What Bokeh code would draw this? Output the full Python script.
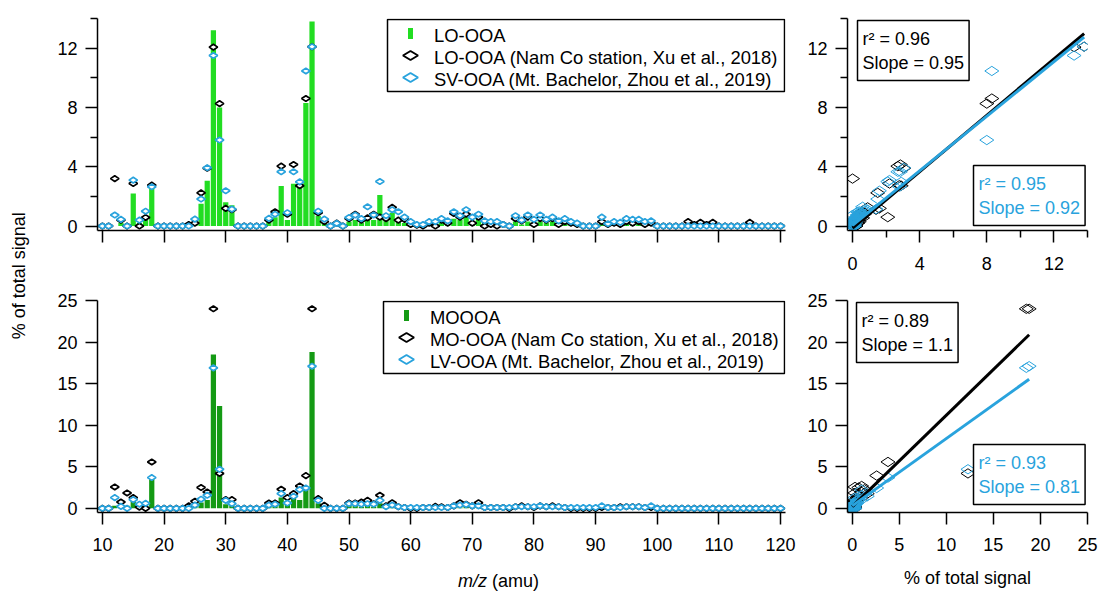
import math
from bokeh.plotting import figure
from bokeh.models import (Range1d, FixedTicker, Legend, LegendItem, Label,
                          BoxAnnotation, PolyAnnotation)
from bokeh.layouts import row, column
from bokeh.embed import file_html
from bokeh.resources import INLINE

# ---------------- data ----------------
mz = list(range(10, 121))

# this study, LO-OOA (% of total signal), m/z 10..120
lo_ooa = [
    0, 0, 0, 0.2, 0.1, 2.2, 0.2, 0.4, 2.8, 0,
    0, 0, 0, 0, 0.1, 0.3, 1.5, 3.05, 13.2, 8.0,
    1.6, 1.4, 0, 0, 0, 0, 0, 0.3, 0.6, 2.7,
    0.4, 2.85, 2.9, 8.3, 13.8, 0.7, 0.2, 0, 0.1, 0.1,
    0.3, 0.4, 0.2, 0.6, 0.4, 2.1, 0.4, 0.9, 0.3, 0.2,
    0.2, 0.1, 0.1, 0.1, 0.1, 0.3, 0.1, 0.5, 0.4, 0.7,
    0.3, 0.5, 0.2, 0.2, 0.1, 0.1, 0, 0.3, 0.1, 0.3,
    0.1, 0.3, 0.2, 0.3, 0.1, 0.2, 0.1, 0.1, 0, 0,
    0, 0.4, 0.1, 0.1, 0.1, 0.2, 0.1, 0.2, 0.1, 0.1,
    0, 0, 0, 0, 0, 0.05, 0, 0.05, 0, 0.05,
    0, 0, 0, 0, 0, 0.05, 0, 0, 0, 0,
    0,
]
# LO-OOA, Nam Co station (Xu et al., 2018)
lo_ooa_namco = [
    0, 0, 3.2, 0.4, 0, 2.87, 0, 0.58, 2.76, 0,
    0, 0, 0, 0, 0.1, 0.2, 2.24, 3.9, 12.07, 8.26,
    1.19, 1.1, 0, 0, 0, 0, 0, 0.4, 0.96, 4.04,
    0.8, 4.15, 2.72, 8.6, 12.1, 0.9, 0.3, 0, 0.2, 0,
    0.5, 0.8, 0.4, 0.55, 0.8, 0.6, 0.5, 1.26, 0.4, 0.45,
    0.1, 0.05, 0, 0.2, 0, 0.4, 0.2, 0.85, 0.6, 0.8,
    0.2, 0.6, 0, 0.1, 0, 0.1, 0, 0.5, 0.35, 0.6,
    0.1, 0.5, 0.4, 0.5, 0.1, 0.3, 0.2, 0.1, 0, 0,
    0, 0.3, 0.1, 0.2, 0.1, 0.3, 0.2, 0.3, 0.1, 0.2,
    0, 0, 0, 0, 0, 0.3, 0.1, 0.25, 0.1, 0.25,
    0, 0, 0, 0, 0, 0.25, 0, 0, 0, 0,
    0,
]
# SV-OOA, Mt. Bachelor (Zhou et al., 2019)
sv_ooa_bachelor = [
    0, 0, 0.74, 0.45, 0, 3.1, 0.4, 1.0, 2.65, 0,
    0, 0, 0, 0, 0, 0.47, 1.82, 3.93, 11.5, 5.8,
    2.38, 1.14, 0, 0, 0, 0, 0, 0.52, 0.8, 3.66,
    0.9, 3.66, 2.98, 10.46, 12.1, 1.0, 0.47, 0, 0.18, 0,
    0.58, 0.74, 0.5, 1.3, 0.75, 3.0, 0.7, 1.1, 0.96, 0.6,
    0.3, 0.1, 0.1, 0.3, 0.3, 0.5, 0.35, 0.96, 0.7, 1.1,
    0.6, 0.8, 0.35, 0.3, 0.3, 0.1, 0, 0.7, 0.4, 0.75,
    0.45, 0.75, 0.45, 0.6, 0.35, 0.5, 0.3, 0.2, 0, 0,
    0, 0.6, 0.15, 0.3, 0.25, 0.5, 0.45, 0.45, 0.3, 0.35,
    0, 0, 0, 0, 0, 0, 0, 0, 0, 0,
    0, 0, 0, 0, 0, 0, 0, 0, 0, 0,
    0,
]
# this study, MOOOA
mo_ooa = [
    0, 0, 0.3, 0.2, 0.3, 1.0, 0.3, 0.3, 3.8, 0,
    0, 0, 0, 0, 0.1, 0.3, 0.7, 1.0, 18.5, 12.3,
    0.5, 0.3, 0, 0, 0, 0, 0, 0.2, 0.3, 1.3,
    0.5, 1.6, 1.0, 2.6, 18.8, 0.6, 0.2, 0, 0, 0,
    0.3, 0.3, 0.2, 0.4, 0.2, 0.6, 0.1, 0.3, 0.1, 0.1,
    0, 0, 0, 0, 0.1, 0.1, 0, 0.2, 0.1, 0.3,
    0.1, 0.2, 0, 0, 0, 0, 0, 0.1, 0, 0.1,
    0, 0.1, 0, 0.1, 0, 0, 0, 0, 0, 0,
    0, 0.1, 0, 0, 0, 0, 0, 0, 0, 0,
    0, 0, 0, 0, 0, 0, 0, 0, 0, 0,
    0, 0, 0, 0, 0, 0, 0, 0, 0, 0,
    0,
]
# MO-OOA, Nam Co station (Xu et al., 2018)
mo_ooa_namco = [
    0, 0, 2.57, 0.76, 1.85, 1.29, 0.15, 0, 5.58, 0,
    0, 0, 0, 0, 0.3, 0.85, 2.5, 1.97, 24.0, 4.2,
    1.05, 1.05, 0, 0, 0, 0, 0, 0.64, 0.64, 2.29,
    1.29, 1.77, 2.69, 3.94, 24.0, 1.17, 0.36, 0, 0, 0,
    0.64, 0.64, 0.76, 0.96, 0.56, 1.57, 0.3, 0.68, 0.2, 0.1,
    0, 0, 0.1, 0.1, 0.24, 0.2, 0.1, 0.3, 0.68, 0.5,
    0.3, 0.68, 0.1, 0.1, 0.1, 0.1, 0, 0.2, 0.3, 0.2,
    0.1, 0.3, 0.2, 0.3, 0.2, 0.1, 0, 0, 0, 0,
    0, 0.1, 0.1, 0.1, 0.2, 0.2, 0.2, 0.2, 0.1, 0.1,
    0, 0, 0, 0, 0, 0, 0, 0, 0, 0,
    0, 0, 0, 0, 0, 0, 0, 0, 0, 0,
    0,
]
# LV-OOA, Mt. Bachelor (Zhou et al., 2019)
lv_ooa_bachelor = [
    0, 0, 1.29, 0.24, 0, 1.05, 0.5, 0.6, 3.7, 0,
    0, 0, 0, 0, 0, 0.4, 1.1, 1.57, 16.9, 4.7,
    0.96, 0.56, 0, 0, 0, 0, 0, 0.4, 0.5, 1.77,
    0.64, 1.45, 2.25, 2.45, 17.1, 0.96, 0, 0, 0, 0,
    0.56, 0.56, 0.5, 0.56, 0.5, 0.96, 0.2, 0.4, 0.2, 0.1,
    0.1, 0.1, 0.1, 0.1, 0.1, 0.1, 0.1, 0.3, 0.4, 0.45,
    0.3, 0.3, 0.1, 0.1, 0.1, 0.1, 0.1, 0.2, 0.2, 0.2,
    0.2, 0.3, 0.2, 0.2, 0.2, 0.1, 0.1, 0.1, 0.1, 0.1,
    0.1, 0.3, 0.1, 0.1, 0.1, 0.2, 0.2, 0.2, 0.1, 0.3,
    0, 0, 0, 0, 0, 0, 0, 0, 0, 0,
    0, 0, 0, 0, 0, 0, 0, 0, 0, 0,
    0,
]

# regression results: (r2, slope, intercept)
fit_top_namco = (0.96, 0.95, -0.13)
fit_top_bachelor = (0.95, 0.92, 0.05)
fit_bot_namco = (0.89, 1.1, 0.2)
fit_bot_bachelor = (0.93, 0.81, 0.3)

mz_ticks = [10, 20, 30, 40, 50, 60, 70, 80, 90, 100, 110, 120]
top_ticks = [0, 4, 8, 12]
top_minor = [2, 6, 10, 14]
bot_ticks = [0, 5, 10, 15, 20, 25]

# ---------------- style ----------------
FONT = "Liberation Sans"
FS = "18px"
LFS = "18.4px"
BLUE = "#29a3dd"
GREEN_LO = "#22dd22"
GREEN_MO = "#149a14"

FW_L, FW_R, FH = 688, 240, 212


class Frame:
    """pixel geometry of a figure's frame, to place annotations"""
    def __init__(self, p, left, top, w, h, xr, yr):
        self.p, self.left, self.top, self.w, self.h, self.xr, self.yr = p, left, top, w, h, xr, yr

    def x(self, px):
        return self.xr[0] + (px - self.left) * (self.xr[1] - self.xr[0]) / self.w

    def y(self, py):
        return self.yr[1] - (py - self.top) * (self.yr[1] - self.yr[0]) / self.h


def base_fig(xr, yr, fw, fh, bl, br, bt, bb, std=8):
    p = figure(x_range=Range1d(*xr), y_range=Range1d(*yr),
               frame_width=fw, frame_height=fh,
               min_border_left=bl, min_border_right=br,
               min_border_top=bt, min_border_bottom=bb,
               toolbar_location=None, output_backend="svg")
    p.xgrid.visible = False
    p.ygrid.visible = False
    p.outline_line_color = None
    p.background_fill_color = "white"
    p.border_fill_color = "white"
    for ax in p.axis:
        ax.axis_line_color = "black"
        ax.axis_line_width = 1.5
        ax.major_tick_line_color = "black"
        ax.major_tick_line_width = 1.5
        ax.minor_tick_line_color = "black"
        ax.minor_tick_line_width = 1.5
        ax.major_tick_out = 12
        ax.major_tick_in = 0
        ax.minor_tick_out = 7
        ax.minor_tick_in = 0
        ax.major_label_text_font = FONT
        ax.major_label_text_font_size = FS
        ax.major_label_text_color = "black"
        ax.major_label_standoff = 8
        ax.axis_label_text_font = FONT
        ax.axis_label_text_font_size = FS
        ax.axis_label_text_font_style = "normal"
        ax.axis_label_text_color = "black"
    p.xaxis.major_label_standoff = std
    return p


def add_legend(fr, labels, colors, bar_color, box_left, box_top, box_right):
    p = fr.p
    PAD, GW, GH = 3, 40, 22
    height = 2 * PAD + GH * len(labels)
    # legend frame with white background (drawn above the data)
    p.add_layout(BoxAnnotation(left=fr.x(box_left), right=fr.x(box_right),
                               top=fr.y(box_top), bottom=fr.y(box_top + height),
                               fill_color="white", fill_alpha=1.0,
                               line_color="black", line_width=1.5, line_alpha=1.0))
    cx = box_left + PAD + GW / 2
    # swatch 1: bar
    cy = box_top + PAD + GH / 2
    p.add_layout(BoxAnnotation(left=fr.x(cx - 2.5), right=fr.x(cx + 2.5),
                               bottom=fr.y(cy + 5.5), top=fr.y(cy - 5.5),
                               fill_color=bar_color, fill_alpha=1.0, line_color=None))
    # swatches 2, 3: diamonds
    for k, col in enumerate(colors):
        cy = box_top + PAD + GH * (k + 1.5)
        p.add_layout(PolyAnnotation(
            xs=[fr.x(cx - 7.5), fr.x(cx), fr.x(cx + 7.5), fr.x(cx)],
            ys=[fr.y(cy), fr.y(cy - 4.5), fr.y(cy), fr.y(cy + 4.5)],
            line_color=col, line_width=2, line_alpha=1.0,
            fill_color="white", fill_alpha=1.0))
    # legend entries (labels); glyphs are the swatches above
    dummies = [p.scatter(x=[], y=[], marker="circle", size=1, alpha=0) for _ in labels]
    items = [LegendItem(label=lab, renderers=[d]) for lab, d in zip(labels, dummies)]
    lg = Legend(items=items,
                location=(box_left - fr.left, fr.top + fr.h - (box_top + height)),
                glyph_width=GW, glyph_height=GH, label_height=GH,
                spacing=0, padding=PAD, margin=0, label_standoff=7,
                label_text_font=FONT, label_text_font_size=LFS,
                label_text_color="black",
                border_line_color=None, background_fill_alpha=0.0)
    p.add_layout(lg)


def add_fit_box(p, fit, x, y, color, baseline):
    r2, slope, _ = fit
    txt = "r\u00b2 = %s\nSlope = %s" % (r2, slope)
    p.add_layout(Label(x=x, y=y, text=txt, text_font=FONT, text_font_size=FS,
                       text_color=color, text_align="left", text_baseline=baseline,
                       border_line_color="black", border_line_width=1.5,
                       background_fill_color="white", padding=(5, 8)))


DIA = dict(marker="diamond", angle=math.pi / 2)

# ---------- top-left: LO-OOA spectrum ----------
XR_L = (9.2, 120.8)
YR_T = (-0.3, 14)
YR_B = (-0.5, 25)
p1 = base_fig(XR_L, YR_T, FW_L, FH, 57, 15, 18, 50)
f1 = Frame(p1, 97, 18, FW_L, FH, XR_L, YR_T)
p1.xaxis.ticker = FixedTicker(ticks=mz_ticks)
p1.xaxis.major_label_overrides = {t: "" for t in mz_ticks}
p1.yaxis.ticker = FixedTicker(ticks=top_ticks, minor_ticks=top_minor)
p1.vbar(x=mz, top=lo_ooa, width=0.85, fill_color=GREEN_LO, line_color=None)
p1.scatter(mz, lo_ooa_namco, size=8.5, line_color="black", line_width=1.7,
           fill_color="white", **DIA)
p1.scatter(mz, sv_ooa_bachelor, size=8.5, line_color=BLUE, line_width=1.7,
           fill_color="white", **DIA)
add_legend(f1, ["LO-OOA", "LO-OOA (Nam Co station, Xu et al., 2018)",
                "SV-OOA (Mt. Bachelor, Zhou et al., 2019)"],
           ["black", BLUE], GREEN_LO, 387, 19, 784)

# ---------- top-right: scatter ----------
XR_TR = (-0.3, 14)
p2 = base_fig(XR_TR, YR_T, FW_R, FH, 47, 14, 18, 50, std=14)
f2 = Frame(p2, 847, 18, FW_R, FH, XR_TR, YR_T)
p2.xaxis.ticker = FixedTicker(ticks=top_ticks, minor_ticks=top_minor)
p2.yaxis.ticker = FixedTicker(ticks=top_ticks, minor_ticks=top_minor)
p2.scatter(lo_ooa, lo_ooa_namco, size=14, line_color="black", line_width=1,
           fill_alpha=0, **DIA)
p2.scatter(lo_ooa, sv_ooa_bachelor, size=14, line_color=BLUE, line_width=1,
           fill_alpha=0, **DIA)
xmax_top = max(lo_ooa)
for fit, col in ((fit_top_namco, "black"), (fit_top_bachelor, BLUE)):
    p2.line([0, xmax_top], [fit[2], fit[2] + fit[1] * xmax_top],
            line_color=col, line_width=3)
add_fit_box(p2, fit_top_namco, f2.x(857), f2.y(20), "black", "top")
add_fit_box(p2, fit_top_bachelor, f2.x(973), f2.y(225), BLUE, "bottom")

# ---------- bottom-left: MOOOA spectrum ----------
p3 = base_fig(XR_L, YR_B, FW_L, FH, 57, 15, 20, 55, std=13)
f3 = Frame(p3, 97, 300, FW_L, FH, XR_L, YR_B)
p3.xaxis.ticker = FixedTicker(ticks=mz_ticks)
p3.yaxis.ticker = FixedTicker(ticks=bot_ticks)
p3.vbar(x=mz, top=mo_ooa, width=0.85, fill_color=GREEN_MO, line_color=None)
p3.scatter(mz, mo_ooa_namco, size=8.5, line_color="black", line_width=1.7,
           fill_color="white", **DIA)
p3.scatter(mz, lv_ooa_bachelor, size=8.5, line_color=BLUE, line_width=1.7,
           fill_color="white", **DIA)
add_legend(f3, ["MOOOA", "MO-OOA (Nam Co station, Xu et al., 2018)",
                "LV-OOA (Mt. Bachelor, Zhou et al., 2019)"],
           ["black", BLUE], GREEN_MO, 383, 301, 784)

# x-axis title strip under the bottom-left panel ("m/z" italic)
ps = figure(x_range=Range1d(0, 760), y_range=Range1d(0, 25), frame_width=760, frame_height=25,
            min_border=0, toolbar_location=None, output_backend="svg")
ps.axis.visible = False
ps.grid.visible = False
ps.outline_line_color = None
ps.add_layout(Label(x=389.5, y=12, text="m/z", text_font=FONT, text_font_size=FS,
                    text_font_style="italic", text_color="black",
                    text_align="right", text_baseline="middle"))
ps.add_layout(Label(x=394.5, y=12, text="(amu)", text_font=FONT, text_font_size=FS,
                    text_color="black", text_align="left", text_baseline="middle"))

# ---------- bottom-right: scatter ----------
XR_BR = (-0.5, 25)
p4 = base_fig(XR_BR, YR_B, FW_R, FH, 47, 14, 20, 80, std=13)
f4 = Frame(p4, 847, 300, FW_R, FH, XR_BR, YR_B)
p4.xaxis.ticker = FixedTicker(ticks=bot_ticks)
p4.yaxis.ticker = FixedTicker(ticks=bot_ticks)
p4.xaxis.axis_label = "% of total signal"
p4.xaxis.axis_label_standoff = 14
p4.scatter(mo_ooa, mo_ooa_namco, size=14, line_color="black", line_width=1,
           fill_alpha=0, **DIA)
p4.scatter(mo_ooa, lv_ooa_bachelor, size=14, line_color=BLUE, line_width=1,
           fill_alpha=0, **DIA)
xmax_bot = max(mo_ooa)
for fit, col in ((fit_bot_namco, "black"), (fit_bot_bachelor, BLUE)):
    p4.line([0, xmax_bot], [fit[2], fit[2] + fit[1] * xmax_bot],
            line_color=col, line_width=3)
add_fit_box(p4, fit_bot_namco, f4.x(856), f4.y(302), "black", "top")
add_fit_box(p4, fit_bot_bachelor, f4.x(973), f4.y(504), BLUE, "bottom")

# ---------- shared y-axis title ----------
pl = figure(x_range=Range1d(0, 1), y_range=Range1d(0, 1), frame_width=40, frame_height=592,
            min_border=0, toolbar_location=None, output_backend="svg")
pl.axis.visible = False
pl.grid.visible = False
pl.outline_line_color = None
pl.add_layout(Label(x=0.45, y=0.535, text="% of total signal", angle=math.pi / 2,
                    text_font=FONT, text_font_size=FS, text_color="black",
                    text_align="center", text_baseline="middle"))

layout = row(pl, column(row(p1, p2), row(column(p3, ps), p4)))
open("out.html", "w").write(file_html(layout, INLINE))
